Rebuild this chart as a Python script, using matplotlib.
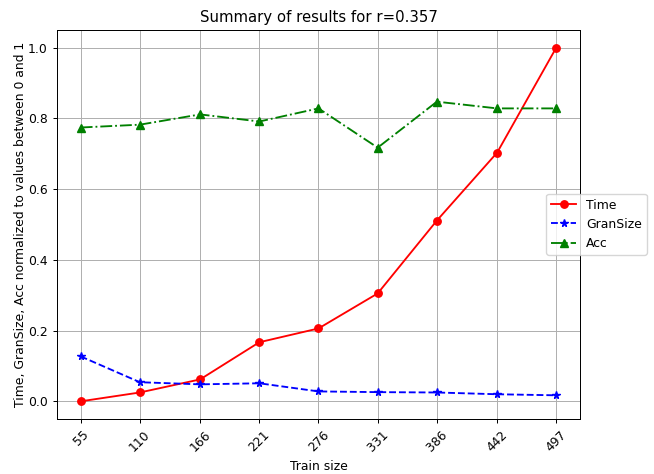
import matplotlib
matplotlib.use("Agg")
import matplotlib.pyplot as plt

train_sizes = [55, 110, 166, 221, 276, 331, 386, 442, 497]
time_norm = [0.0, 0.025, 0.062, 0.167, 0.206, 0.305, 0.511, 0.703, 1.0]
gran_size = [0.127, 0.054, 0.048, 0.051, 0.028, 0.026, 0.025, 0.020, 0.017]
acc = [0.774, 0.782, 0.811, 0.791, 0.828, 0.717, 0.847, 0.828, 0.828]

s = 0.89
plt.rcParams.update({
    'font.size': 10 * s,
    'axes.titlesize': 12 * s,
    'lines.linewidth': 1.5 * s,
    'lines.markersize': 6 * s,
    'axes.linewidth': 0.8 * s,
    'grid.linewidth': 0.8 * s,
    'xtick.major.width': 0.8 * s,
    'ytick.major.width': 0.8 * s,
    'xtick.major.size': 3.5 * s,
    'ytick.major.size': 3.5 * s,
})

fig = plt.figure(figsize=(6.54, 4.74), dpi=100)
ax = fig.add_subplot(111)
fig.subplots_adjust(left=0.087, right=0.887, top=0.937, bottom=0.116)

ax.plot(train_sizes, time_norm, 'r-o', label='Time')
ax.plot(train_sizes, gran_size, 'b--*', label='GranSize')
ax.plot(train_sizes, acc, 'g-.^', label='Acc')

ax.set_xticks(train_sizes)
ax.set_xticklabels([str(v) for v in train_sizes], rotation=45)
ax.grid(True)
ax.set_xlabel('Train size')
ax.set_ylabel('Time, GranSize, Acc normalized to values between 0 and 1', labelpad=1)
ax.set_title('Summary of results for r=0.357')

fig.legend(loc='center left', bbox_to_anchor=(0.826, 0.527))

fig.savefig('out.png', dpi=100)
